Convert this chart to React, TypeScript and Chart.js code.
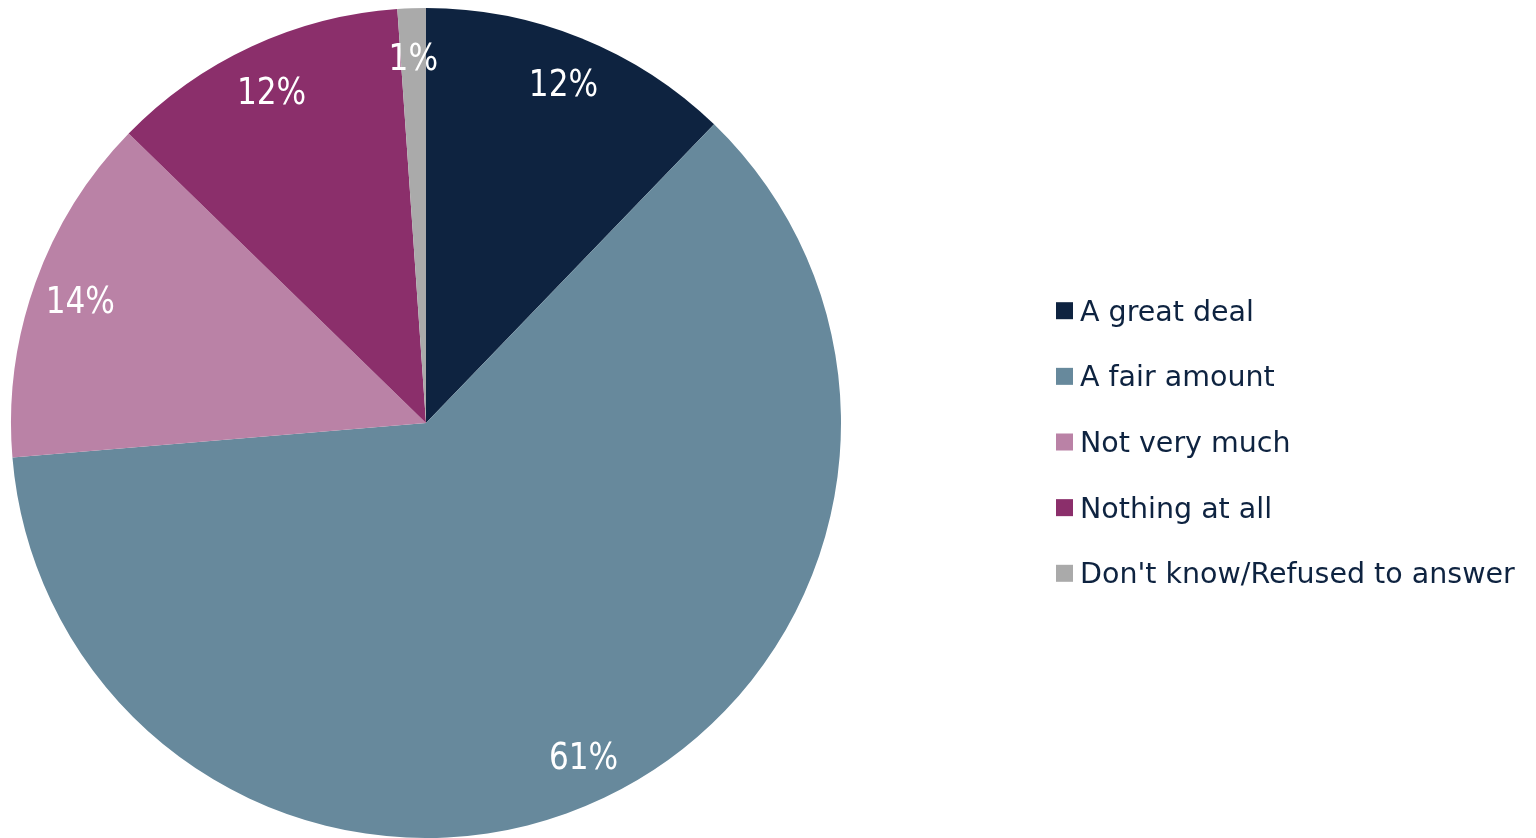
import React, { useEffect, useRef } from "react";
import { Chart, registerables } from "chart.js";

Chart.register(...registerables);

const categories = [
  "A great deal",
  "A fair amount",
  "Not very much",
  "Nothing at all",
  "Don't know/Refused to answer",
];
const shares = [12.2, 61.4, 13.6, 11.6, 1.1];
const sliceColors = ["#0E2340", "#67899C", "#BA82A6", "#8B2F6B", "#AAAAAA"];

const LABEL_FONT = '38px "DejaVu Sans"';
const LEGEND_FONT = '28.5px "DejaVu Sans"';
const TEXT_DARK = "#0E2340";

const sliceLabelPlugin = {
  id: "sliceLabels",
  afterDatasetsDraw(chart: any) {
    const ctx = chart.ctx;
    const meta = chart.getDatasetMeta(0);
    const values = chart.data.datasets[0].data as number[];
    ctx.save();
    ctx.font = LABEL_FONT;
    ctx.fillStyle = "#FFFFFF";
    ctx.textAlign = "center";
    ctx.textBaseline = "alphabetic";
    meta.data.forEach((arc: any, i: number) => {
      const p = arc.getProps(["x", "y", "startAngle", "endAngle", "outerRadius"], true);
      const mid = (p.startAngle + p.endAngle) / 2;
      const r = p.outerRadius * 0.885;
      const x = p.x + Math.cos(mid) * r;
      const y = p.y + Math.sin(mid) * r;
      ctx.save();
      ctx.translate(x, y);
      ctx.scale(0.82, 1);
      ctx.fillText(Math.round(values[i]) + "%", 0, 14);
      ctx.restore();
    });
    ctx.restore();
  },
};

const sideLegendPlugin = {
  id: "sideLegend",
  afterDraw(chart: any) {
    const ctx = chart.ctx;
    const labels = chart.data.labels as string[];
    const colors = chart.data.datasets[0].backgroundColor as string[];
    const boxX = 1048;
    const box = 17;
    const textX = 1072;
    const firstY = 302.7;
    const step = 65.65;
    ctx.save();
    ctx.font = LEGEND_FONT;
    ctx.textAlign = "left";
    ctx.textBaseline = "alphabetic";
    labels.forEach((label, i) => {
      const cy = firstY + i * step;
      ctx.fillStyle = colors[i];
      ctx.fillRect(boxX, cy - box / 2, box, box);
      ctx.fillStyle = TEXT_DARK;
      ctx.fillText(label, textX, cy + 10);
    });
    ctx.restore();
  },
};

export default function App() {
  const canvasRef = useRef<HTMLCanvasElement | null>(null);

  useEffect(() => {
    if (!canvasRef.current) return;
    const chart = new Chart(canvasRef.current, {
      type: "pie",
      data: {
        labels: categories,
        datasets: [
          {
            data: shares,
            backgroundColor: sliceColors,
            borderWidth: 0,
          },
        ],
      },
      options: {
        animation: false,
        responsive: true,
        maintainAspectRatio: false,
        layout: { padding: { left: 0, right: 684, top: 0, bottom: 0 } },
        plugins: {
          legend: { display: false },
          tooltip: { enabled: false },
        },
      },
      plugins: [sliceLabelPlugin, sideLegendPlugin],
    });
    return () => chart.destroy();
  }, []);

  return (
    <div style={{ width: 1520, height: 830, position: "relative" }}>
      <canvas ref={canvasRef} />
    </div>
  );
}
